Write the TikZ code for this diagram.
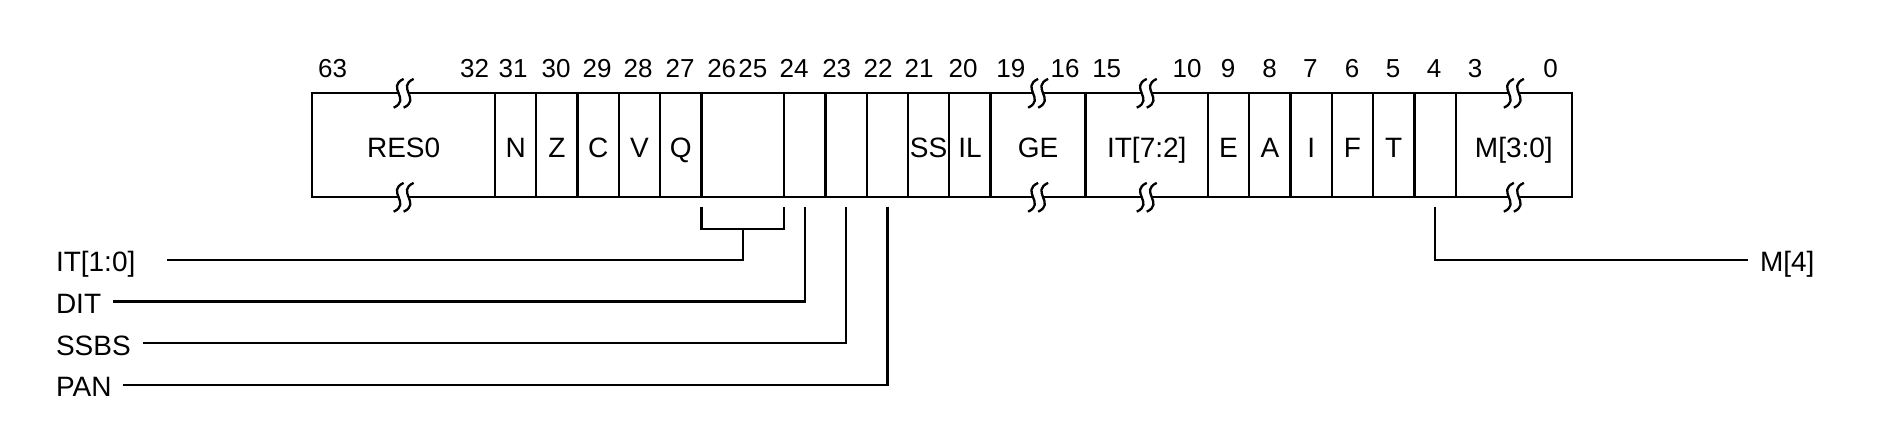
\documentclass[tikz,border=0pt]{standalone}
\usepackage{fontspec}
\setmainfont{Liberation Sans}
\usepackage{tikz}
\usetikzlibrary{positioning}
\newcommand{\brkmark}[1]{%
  \begin{scope}[shift={(#1)}, x=1pt, y=1pt]
    \fill[white] (0,7.2) .. controls (-9,3) and (4,-3) .. (-5,-7.2) -- (0,-7.2) .. controls (9,-3) and (-4,3) .. (5,7.2) -- cycle;
    \draw[line width=1.15pt] (0,7.2) .. controls (-9,3) and (4,-3) .. (-5,-7.2);
    \draw[line width=1.15pt] (5,7.2) .. controls (-4,3) and (9,-3) .. (0,-7.2);
  \end{scope}}

\begin{document}
\begin{tikzpicture}
[
x=0.5pt, y=-0.5pt,
cell-box/.style={rectangle, draw, line width=1.15pt, minimum width=20.65pt, minimum height=52pt, inner sep=0pt, outer sep=0pt, text height=12pt, text depth=0pt, font=\fontsize{14}{16}\selectfont},
num-text/.style={inner sep=0pt, text height=9.3pt, text depth=0pt, font=\fontsize{13}{15}\selectfont},
text-a/.style={inner xsep=6pt, inner ysep=0pt, outer sep=0pt, text height=12pt, text depth=0pt, font=\fontsize{14}{16}\selectfont},
lead-a/.style={line width=1.15pt}
]
\useasboundingbox (0,0) rectangle (1888,426);
% register cells
\node (cell-res0) [cell-box, minimum width=91.35pt, anchor=west] at (312.3,145.3) {RES0};
\node (cell-N)    [cell-box, right = 0pt of cell-res0] {N};
\node (cell-Z)    [cell-box, right = 0pt of cell-N   ] {Z};
\node (cell-C)    [cell-box, right = 0pt of cell-Z   ] {C};
\node (cell-V)    [cell-box, right = 0pt of cell-C   ] {V};
\node (cell-Q)    [cell-box, right = 0pt of cell-V   ] {Q};
\node (cell-it10) [cell-box, right = 0pt of cell-Q, minimum width=41.3pt] {};
\node (cell-dit)  [cell-box, right = 0pt of cell-it10] {};
\node (cell-ssbs) [cell-box, right = 0pt of cell-dit ] {};
\node (cell-pan)  [cell-box, right = 0pt of cell-ssbs] {};
\node (cell-SS)   [cell-box, right = 0pt of cell-pan ] {SS};
\node (cell-IL)   [cell-box, right = 0pt of cell-SS  ] {IL};
\node (cell-GE)   [cell-box, right = 0pt of cell-IL, minimum width=47.5pt] {GE};
\node (cell-it72) [cell-box, right = 0pt of cell-GE, minimum width=61.15pt] {IT[7:2]};
\node (cell-E)    [cell-box, right = 0pt of cell-it72] {E};
\node (cell-A)    [cell-box, right = 0pt of cell-E   ] {A};
\node (cell-I)    [cell-box, right = 0pt of cell-A   ] {I};
\node (cell-F)    [cell-box, right = 0pt of cell-I   ] {F};
\node (cell-T)    [cell-box, right = 0pt of cell-F   ] {T};
\node (cell-m4)   [cell-box, right = 0pt of cell-T   ] {};
\node (cell-m30)  [cell-box, right = 0pt of cell-m4, minimum width=58.15pt] {M[3:0]};
% breaks
\brkmark{cell-res0.north} \brkmark{cell-res0.south}
\brkmark{cell-GE.north}   \brkmark{cell-GE.south}
\brkmark{cell-it72.north} \brkmark{cell-it72.south}
\brkmark{cell-m30.north}  \brkmark{cell-m30.south}
% bit numbers
\node (num-63) [num-text] at (332.5,68.3)  {63};
\node (num-32) [num-text] at (474.5,68.3)  {32};
\node (num-31) [num-text] at (513,68.3)    {31};
\node (num-30) [num-text] at (556,68.3)    {30};
\node (num-29) [num-text] at (597,68.3)    {29};
\node (num-28) [num-text] at (638,68.3)    {28};
\node (num-27) [num-text] at (680,68.3)    {27};
\node (num-26) [num-text] at (721.7,68.3)  {26};
\node (num-25) [num-text] at (752.8,68.3)  {25};
\node (num-24) [num-text] at (794,68.3)    {24};
\node (num-23) [num-text] at (836.7,68.3)  {23};
\node (num-22) [num-text] at (878,68.3)    {22};
\node (num-21) [num-text] at (919,68.3)    {21};
\node (num-20) [num-text] at (963,68.3)    {20};
\node (num-19) [num-text] at (1010.8,68.3) {19};
\node (num-16) [num-text] at (1065,68.3)   {16};
\node (num-15) [num-text] at (1106.7,68.3) {15};
\node (num-10) [num-text] at (1187,68.3)   {10};
\node (num-9)  [num-text] at (1228,68.3)   {9};
\node (num-8)  [num-text] at (1269.7,68.3) {8};
\node (num-7)  [num-text] at (1310.3,68.3) {7};
\node (num-6)  [num-text] at (1352,68.3)   {6};
\node (num-5)  [num-text] at (1393,68.3)   {5};
\node (num-4)  [num-text] at (1434,68.3)   {4};
\node (num-3)  [num-text] at (1475,68.3)   {3};
\node (num-0)  [num-text] at (1550.7,68.3) {0};
% field names below
\node (lbl-it)   [text-a, anchor=west] at (44,260) {IT[1:0]};
\node (lbl-dit)  [text-a, below = 8.8pt of lbl-it.south west, anchor=north west]  {DIT};
\node (lbl-ssbs) [text-a, below = 8.8pt of lbl-dit.south west, anchor=north west] {SSBS};
\node (lbl-pan)  [text-a, below = 8.8pt of lbl-ssbs.south west, anchor=north west] {PAN};
\node (lbl-m4)   [text-a, anchor=west] at (1748,260) {M[4]};
\coordinate (it-end) at (167.3,260);
\draw [lead-a] ([yshift=-4.7pt]cell-it10.south west) |- ([yshift=-16pt]cell-it10.south) -| ([yshift=-4.7pt]cell-it10.south east);
\draw [lead-a] ([yshift=-16pt]cell-it10.south) |- (it-end);
\draw [lead-a] ([yshift=-4.7pt]cell-dit.south)  |- (lbl-dit.east);
\draw [lead-a] ([yshift=-4.7pt]cell-ssbs.south) |- (lbl-ssbs.east);
\draw [lead-a] ([yshift=-4.7pt]cell-pan.south)  |- (lbl-pan.east);
\draw [lead-a] ([yshift=-4.7pt]cell-m4.south)   |- (lbl-m4.west);
\end{tikzpicture}
\end{document}
